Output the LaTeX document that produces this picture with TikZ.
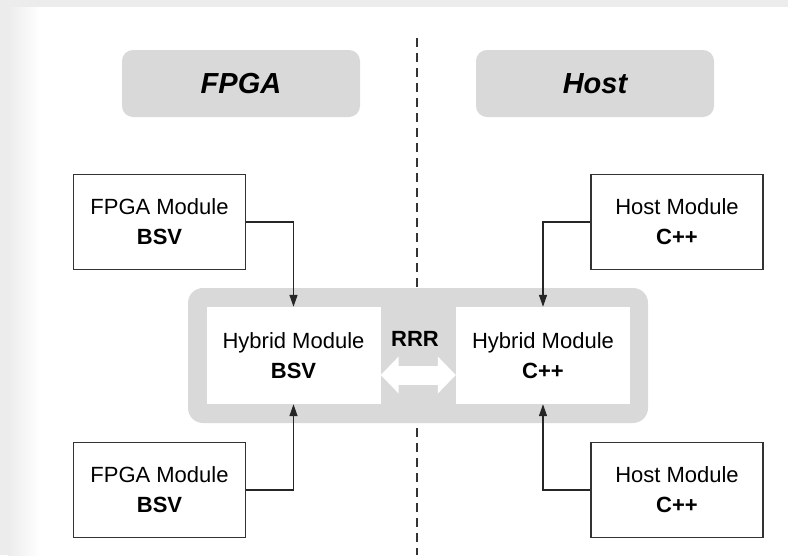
\documentclass[tikz,border=0pt]{standalone}
\usepackage{fontspec}
\setmainfont{Liberation Sans}
\usetikzlibrary{arrows.meta}
\definecolor{panel}{HTML}{D9D9D9}
\definecolor{edge}{HTML}{ECECEC}
\tikzset{
  headbox/.style={fill=panel, rounded corners=11pt, minimum width=238pt, minimum height=67pt, inner sep=0pt,
    font=\fontsize{29}{34}\selectfont\bfseries\itshape},
  modbox/.style={draw=black!80, line width=1.5pt, minimum width=172pt, minimum height=95pt, inner sep=0pt,
    align=center, font=\fontsize{22}{30}\selectfont},
  hybbox/.style={fill=white, minimum width=174pt, minimum height=97pt, inner sep=0pt,
    align=center, font=\fontsize{22}{30}\selectfont},
  conn/.style={draw=black!85, line width=1.4pt, -{Triangle[length=12pt,width=8pt]}},
}
\begin{document}
\begin{tikzpicture}[x=1pt,y=-1pt]
\useasboundingbox (0,0) rectangle (788,555);
\fill[edge] (0,0) rectangle (788,555);
\shade[left color=edge, right color=white] (8,7) rectangle (40,555);
\fill[white] (40,7) rectangle (788,555);
% divider
\coordinate (dtop) at (417,38);
\coordinate (dbot) at (417,555);
\draw[black!80, line width=1.2pt, dash pattern=on 9pt off 6pt] (dtop) -- (dbot);
% headings
\node[headbox] (hf) at (241,83.5) {FPGA};
\node[headbox] (hh) at (595,83.5) {Host};
% container
\node[fill=panel, rounded corners=15pt, minimum width=460pt, minimum height=135pt] (cont) at (418,355.5) {};
\node[hybbox] (hl) at (293.5,355.5) {Hybrid Module\\\textbf{BSV}};
\node[hybbox] (hr) at (543,355.5) {Hybrid Module\\\textbf{C++}};
\node[font=\fontsize{22}{27}\selectfont\bfseries] (rrr) at (415,339) {RRR};
\draw[white, line width=19pt, {Triangle[length=18pt,width=36pt]}-{Triangle[length=18pt,width=36pt]}]
  ([yshift=-19.5pt]hl.east) -- ([yshift=-19.5pt]hr.west);
% modules
\node[modbox] (tl) at (159.5,222) {FPGA Module\\\textbf{BSV}};
\node[modbox] (bl) at (159.5,490) {FPGA Module\\\textbf{BSV}};
\node[modbox] (tr) at (677,222) {Host Module\\\textbf{C++}};
\node[modbox] (br) at (677,490) {Host Module\\\textbf{C++}};
% connectors
\draw[conn] (tl.east) -| (hl.north);
\draw[conn] (bl.east) -| (hl.south);
\draw[conn] (tr.west) -| (hr.north);
\draw[conn] (br.west) -| (hr.south);
\end{tikzpicture}
\end{document}
